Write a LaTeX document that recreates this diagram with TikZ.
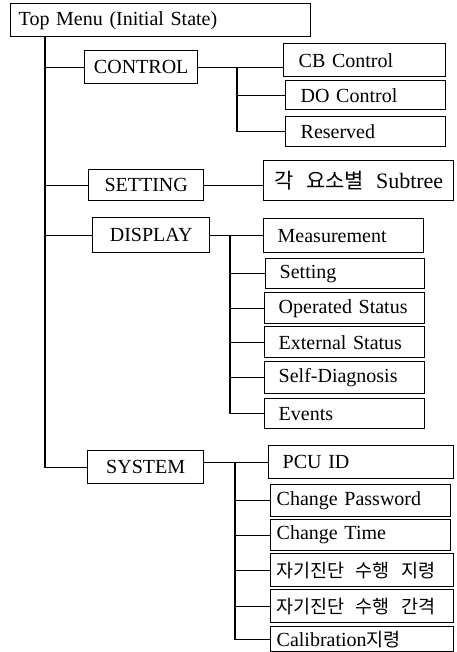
\documentclass[tikz,border=0pt]{standalone}
\usepackage{fontspec}
\setmainfont{Liberation Serif}[WordSpace=2.2]
\newfontfamily\kr{Noto Sans CJK KR}
\tikzset{
  box/.style={draw, line width=1.4pt, anchor=north west, inner sep=0pt,
    font=\fontsize{20}{24}\selectfont},
  cbox/.style 2 args={box, minimum width=#1, minimum height=#2, align=center},
  lbox/.style n args={3}{box, text width=#1, inner xsep=#2, minimum height=#3, align=left},
  conn/.style={line width=1.3pt},
}
\newcommand{\krtxt}[1]{{\kr\fontsize{18.5}{20}\selectfont #1}}
\newcommand{\ksp}{\hspace{0.6em}}
\begin{document}
\begin{tikzpicture}[x=1pt,y=-1pt]
\useasboundingbox (0,0) rectangle (456,652);
% top
\node[lbox={284pt}{8pt}{33pt}] (top) at (10,3) {Top Menu (Initial State)};
% level 1
\node[cbox={113pt}{33pt}] (control) at (84,50) {CONTROL};
\node[cbox={115pt}{31pt}] (setting) at (88,169) {SETTING};
\node[cbox={117pt}{35pt}] (display) at (92,217) {DISPLAY};
\node[cbox={116pt}{33pt}] (system) at (87,450) {SYSTEM};
% control leaves
\node[lbox={132pt}{15pt}{33pt}] (cb) at (283,43) {CB Control};
\node[lbox={130pt}{15pt}{29pt}] (do) at (285,80) {DO Control};
\node[lbox={130pt}{15pt}{30pt}] (res) at (285,116) {Reserved};
% setting leaf
\node[cbox={190pt}{40pt}] (sub) at (263,160) {{\kr\fontsize{21}{24}\selectfont 각\ksp 요소별}\ksp{\fontsize{22}{24}\selectfont Subtree}};
% display leaves
\node[lbox={132pt}{14pt}{34pt}] (meas) at (263,218) {Measurement};
\node[lbox={131pt}{14pt}{30pt}] (dset) at (265,258) {Setting};
\node[lbox={132pt}{14pt}{31pt}] (oper) at (264,292) {Operated Status};
\node[lbox={132pt}{14pt}{31pt}] (ext) at (264,326) {External Status};
\node[lbox={132pt}{14pt}{32pt}] (selfd) at (264,361) {Self-Diagnosis};
\node[lbox={132pt}{14pt}{30pt}] (ev) at (264,398) {Events};
% system leaves
\node[lbox={157pt}{14pt}{33pt}] (pcu) at (268,445) {PCU ID};
\node[lbox={168pt}{6pt}{32pt}] (pw) at (270,484) {Change Password};
\node[lbox={168pt}{6pt}{31pt}] (ct) at (270,519) {Change Time};
\node[lbox={171pt}{6pt}{33pt}] (k1) at (270,553) {\krtxt{자기진단\ksp 수행\ksp 지령}};
\node[lbox={171pt}{6pt}{33pt}] (k2) at (270,589) {\krtxt{자기진단\ksp 수행\ksp 간격}};
\node[lbox={171pt}{6pt}{25pt}] (cal) at (270,626) {Calibration\krtxt{지령}};
% trunk
\coordinate (tk) at (45,0);
\draw[conn] (top.south -| tk) |- (system.west);
\draw[conn] (control.west -| tk) -- (control.west);
\draw[conn] (setting.west -| tk) -- (setting.west);
\draw[conn] (display.west -| tk) -- (display.west);
% control branch
\coordinate (cv) at (237,0);
\draw[conn] (control.east) -- (control.east -| cb.west);
\draw[conn] (control.east -| cv) |- (res.west);
\draw[conn] (do.west -| cv) -- (do.west);
% setting branch
\draw[conn] (setting.east) -- (setting.east -| sub.west);
% display branch
\coordinate (dv) at (230,0);
\draw[conn] (display.east) -- (display.east -| meas.west);
\draw[conn] (display.east -| dv) |- (ev.west);
\draw[conn] (dset.west -| dv) -- (dset.west);
\draw[conn] (oper.west -| dv) -- (oper.west);
\draw[conn] (ext.west -| dv) -- (ext.west);
\draw[conn] (selfd.west -| dv) -- (selfd.west);
% system branch
\coordinate (sv) at (235,0);
\draw[conn] (pcu.west -| system.east) -- (pcu.west);
\draw[conn] (pcu.west -| sv) |- (cal.west);
\draw[conn] (pw.west -| sv) -- (pw.west);
\draw[conn] (ct.west -| sv) -- (ct.west);
\draw[conn] (k1.west -| sv) -- (k1.west);
\draw[conn] (k2.west -| sv) -- (k2.west);
\end{tikzpicture}
\end{document}
